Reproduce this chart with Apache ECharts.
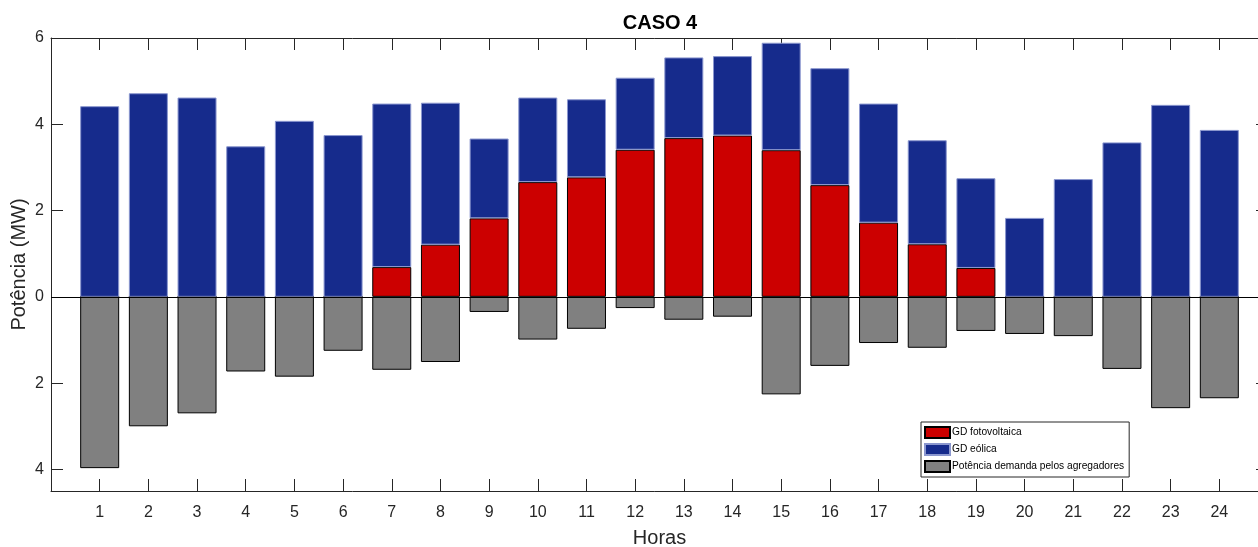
<!DOCTYPE html>
<html>
<head>
<meta charset="utf-8">
<title>CASO 4</title>
<style>
    html, body {margin: 0; padding: 0; background: #fff;}
    #main1 {width: 1258px; height: 547px;}
</style>
<script src="https://cdn.jsdelivr.net/npm/echarts@6/dist/echarts.min.js"></script>
</head>
<body>
<div id="main1"></div>
<script>
    // dados
    let horas = [1, 2, 3, 4, 5, 6, 7, 8, 9, 10, 11, 12, 13, 14, 15, 16, 17, 18, 19, 20, 21, 22, 23, 24];
    let fotovoltaica = [0, 0, 0, 0, 0, 0, 0.69, 1.21, 1.82, 2.66, 2.77, 3.41, 3.68, 3.74, 3.40, 2.59, 1.72, 1.22, 0.67, 0, 0, 0, 0, 0];
    let eolica = [4.42, 4.72, 4.62, 3.49, 4.08, 3.75, 3.79, 3.29, 1.85, 1.96, 1.81, 1.67, 1.87, 1.84, 2.49, 2.71, 2.76, 2.41, 2.08, 1.83, 2.73, 3.58, 4.45, 3.87];
    let demanda = [-3.97, -3.00, -2.70, -1.73, -1.85, -1.25, -1.69, -1.51, -0.35, -0.99, -0.74, -0.26, -0.53, -0.46, -2.26, -1.60, -1.07, -1.18, -0.79, -0.86, -0.91, -1.67, -2.58, -2.35];
    let yTicks = [-4, -2, 0, 2, 4, 6];

    let axisColor = '#262626';
    let fontFamily = '"Liberation Sans", Arial, sans-serif';

    // [valor, hora] -> o valor fica na 1a dimensão para o empilhamento
    function pares(vals) {
        let out = [];
        for (let i = 0; i < horas.length; i++) {
            out.push([vals[i], horas[i]]);
        }
        return out;
    }

    function initChart(el, opts) {
        if (el) {
            let myChart = echarts.init(el, null, {renderer: 'canvas'});
            myChart.setOption(opts);
            return myChart;
        }
    }

    let xBase = {
        type: 'value',
        min: 0,
        max: 25,
        interval: 1,
        axisLine: {show: true, onZero: false, lineStyle: {color: axisColor, width: 1}},
        axisTick: {show: true, inside: true, length: 12, lineStyle: {color: axisColor}},
        splitLine: {show: false}
    };
    let yBase = {
        type: 'value',
        min: -4.5,
        max: 6,
        axisLine: {show: true, onZero: false, lineStyle: {color: axisColor, width: 1}},
        axisTick: {show: true, inside: true, length: 12, customValues: yTicks, lineStyle: {color: axisColor}},
        splitLine: {show: false}
    };

    let barBase = {
        type: 'bar',
        stack: 'total',
        barWidth: 39,
        encode: {x: 1, y: 0}
    };

    initChart(document.getElementById('main1'), {
        animation: false,
        textStyle: {fontFamily: fontFamily},
        title: {
            text: 'CASO 4',
            left: 655,
            textAlign: 'center',
            top: 8,
            textStyle: {fontSize: 20, fontWeight: 'bold', color: '#000', fontFamily: fontFamily}
        },
        legend: {
            orient: 'vertical',
            left: 921,
            top: 422,
            itemWidth: 25,
            itemHeight: 11,
            itemGap: 4,
            padding: [4, 5, 4, 3],
            borderColor: axisColor,
            borderWidth: 1,
            backgroundColor: '#fff',
            icon: 'rect',
            textStyle: {fontSize: 10.2, color: '#000', fontFamily: fontFamily, padding: [0, 0, 0, -3]},
            data: ['GD fotovoltaica', 'GD eólica', 'Potência demanda pelos agregadores']
        },
        grid: {
            left: 51,
            top: 38,
            right: -10,
            bottom: 56,
            outerBoundsMode: 'none'
        },
        xAxis: [
            Object.assign({}, xBase, {
                position: 'bottom',
                name: 'Horas',
                nameLocation: 'middle',
                nameGap: 37,
                nameTextStyle: {fontSize: 20, color: axisColor, fontFamily: fontFamily},
                axisLabel: {
                    show: true,
                    margin: 14,
                    fontSize: 16,
                    color: axisColor,
                    fontFamily: fontFamily,
                    formatter: function (val) {
                        return (val >= 1 && val <= 24) ? String(val) : '';
                    }
                }
            }),
            Object.assign({}, xBase, {
                position: 'top',
                axisLabel: {show: false}
            })
        ],
        yAxis: [
            Object.assign({}, yBase, {
                position: 'left',
                name: 'Potência (MW)',
                nameLocation: 'middle',
                nameGap: 22,
                nameMoveOverlap: false,
                nameTextStyle: {fontSize: 20, color: axisColor, fontFamily: fontFamily},
                axisLabel: {
                    show: true,
                    margin: 7,
                    fontSize: 16,
                    color: axisColor,
                    fontFamily: fontFamily,
                    customValues: yTicks,
                    formatter: function (val) {
                        return String(Math.abs(val));
                    }
                }
            }),
            Object.assign({}, yBase, {
                position: 'right',
                axisLabel: {show: false}
            })
        ],
        series: [
            Object.assign({}, barBase, {
                name: 'GD fotovoltaica',
                itemStyle: {color: '#cc0000', borderColor: '#000', borderWidth: 1},
                data: pares(fotovoltaica)
            }),
            Object.assign({}, barBase, {
                name: 'GD eólica',
                itemStyle: {color: '#162b8c', borderColor: '#8b97cf', borderWidth: 1},
                data: pares(eolica)
            }),
            Object.assign({}, barBase, {
                name: 'Potência demanda pelos agregadores',
                itemStyle: {color: '#808080', borderColor: '#000', borderWidth: 1},
                data: pares(demanda),
                markLine: {
                    silent: true,
                    symbol: ['none', 'none'],
                    label: {show: false},
                    lineStyle: {color: '#000', type: 'solid', width: 1},
                    data: [{yAxis: 0}]
                }
            })
        ]
    });
</script>
</body>
</html>
